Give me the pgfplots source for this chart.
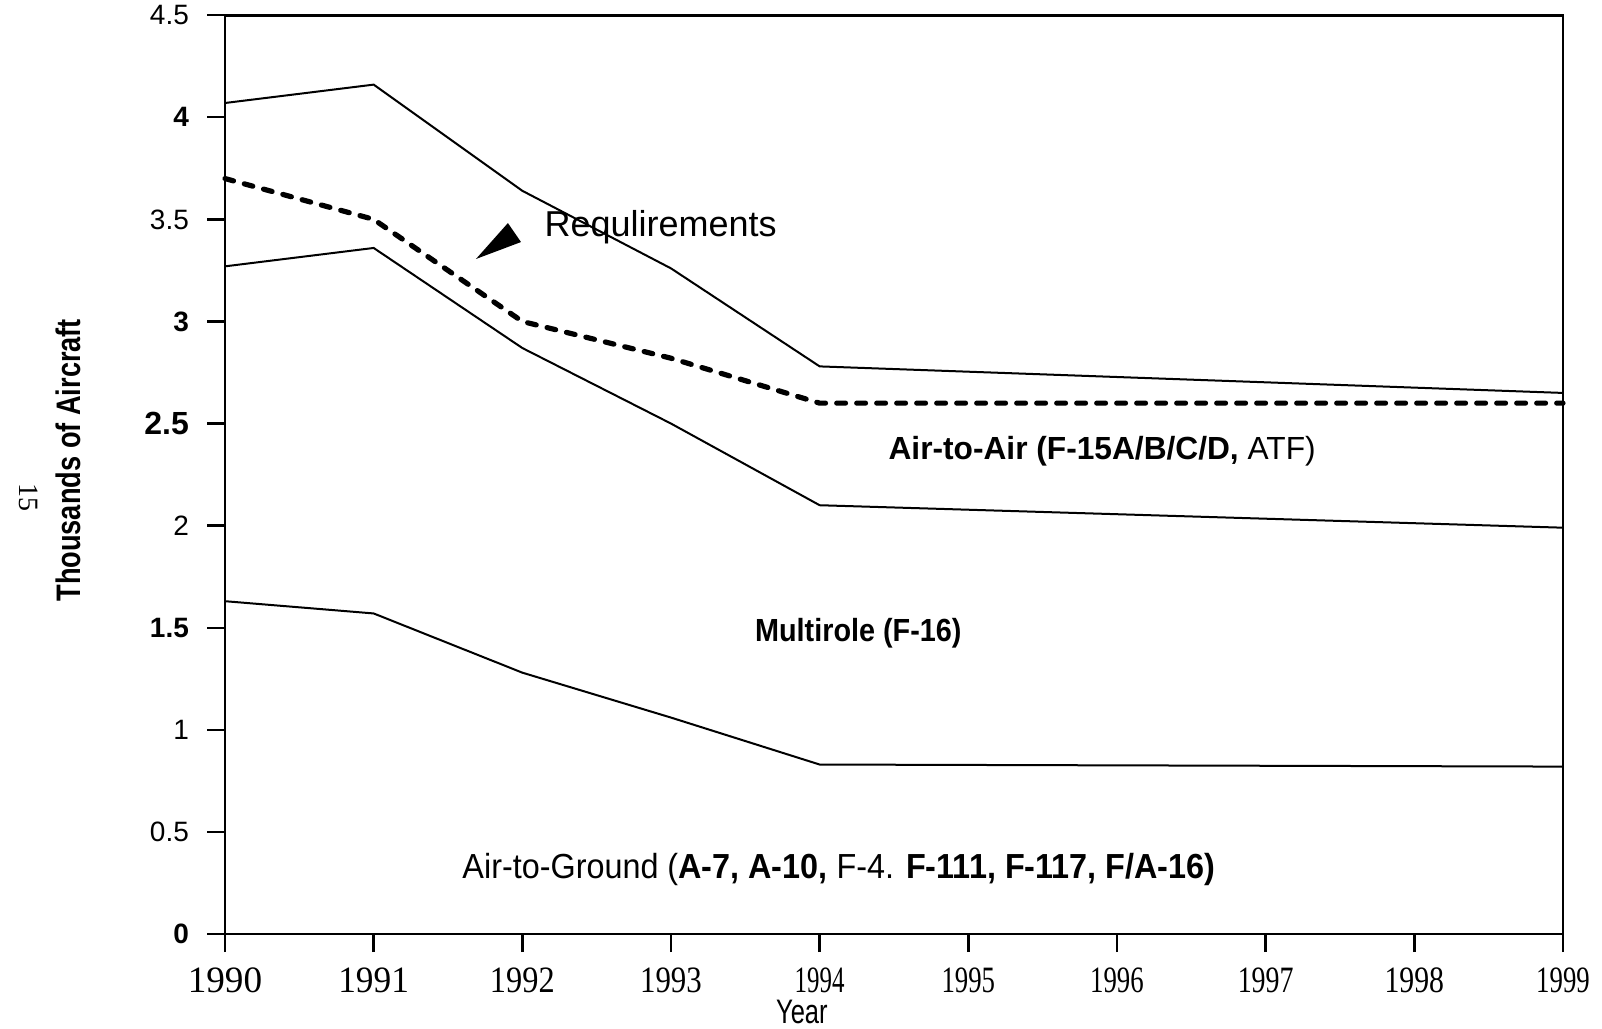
\documentclass[border=0pt]{standalone}
\usepackage{fontspec}
\setmainfont{Liberation Sans}
\newfontfamily\serif{Liberation Serif}
\usepackage{pgfplots}
\pgfplotsset{compat=1.18}
\newcommand{\cx}[2]{\scalebox{#1}[1]{#2}}
\begin{document}
\begin{tikzpicture}
\begin{axis}[
  at={(0,0)}, anchor=south west,
  scale only axis,
  width=334.5pt, height=229.7pt,
  xmin=1990, xmax=1999, ymin=0, ymax=4.5,
  xtick={1990,1991,...,1999},
  ytick={0,0.5,1,1.5,2,2.5,3,3.5,4,4.5},
  xticklabels={\cx{1}{1990},\cx{0.95}{1991},\cx{0.87}{1992},\cx{0.83}{1993},\cx{0.67}{1994},\cx{0.72}{1995},\cx{0.72}{1996},\cx{0.75}{1997},\cx{0.8}{1998},\cx{0.72}{1999}},
  yticklabels={\textbf{0},0.5,1,\textbf{1.5},2,{\fontsize{8}{9}\selectfont\textbf{2.5}},\textbf{3},3.5,\textbf{4},4.5},
  xticklabel style={font=\serif\fontsize{9.3}{10}\selectfont, yshift=-0.5pt},
  yticklabel style={font=\fontsize{7}{8}\selectfont, xshift=-1pt},
  xtick pos=bottom, ytick pos=left,
  tick align=outside,
  major tick length=4.5pt,
  axis line style={line width=0.7pt},
  every tick/.style={black, line width=0.6pt},
  clip=false,
]
\addplot[black, line width=0.5pt] coordinates {(1990,4.07) (1991,4.16) (1992,3.64) (1993,3.26) (1994,2.78) (1999,2.65)};
\addplot[black, line width=1.3pt, line cap=round, dash pattern=on 2.2pt off 2.8pt] coordinates {(1990,3.70) (1991,3.50) (1992,3.00) (1993,2.82) (1994,2.60) (1999,2.60)};
\addplot[black, line width=0.5pt] coordinates {(1990,3.27) (1991,3.36) (1992,2.87) (1993,2.50) (1994,2.10) (1999,1.99)};
\addplot[black, line width=0.5pt] coordinates {(1990,1.63) (1991,1.57) (1992,1.28) (1993,1.06) (1994,0.83) (1999,0.82)};

\fill[black] (axis cs:1991.688,3.306) -- (axis cs:1991.903,3.482) -- (axis cs:1991.991,3.389) -- cycle;
\node[font=\fontsize{9}{11}\selectfont] at (axis cs:1992.93,3.46) {Requlirements};
\node[font=\fontsize{8}{10}\selectfont] at (axis cs:1995.90,2.365) {\cx{0.99}{\textbf{Air-to-Air (F-15A/B/C/D,} ATF)}};
\node[font=\fontsize{8}{10}\selectfont] at (axis cs:1994.26,1.474) {\cx{0.9}{\textbf{Multirole (F-16)}}};
\node[font=\fontsize{8.7}{10}\selectfont] at (axis cs:1994.13,0.318) {\cx{0.93}{Air-to-Ground (\textbf{A-7, A-10,} F-4. \textbf{F-111, F-117, F/A-16)}}};
\node[font=\fontsize{8.5}{10}\selectfont] at ([yshift=-19.5pt]axis cs:1993.88,0) {\cx{0.75}{Year}};
\node[rotate=90, font=\bfseries\fontsize{8.5}{10}\selectfont] at ([xshift=-39.25pt]axis cs:1990,2.32) {\cx{0.8}{Thousands of Aircraft}};
\node[rotate=-90, font=\serif\fontsize{7}{8}\selectfont] at ([xshift=-49pt]axis cs:1990,2.14) {15};
\end{axis}
\pgfresetboundingbox
\path (-56.25pt,-23.5pt) rectangle (344.25pt,233.5pt);
\end{tikzpicture}
\end{document}
